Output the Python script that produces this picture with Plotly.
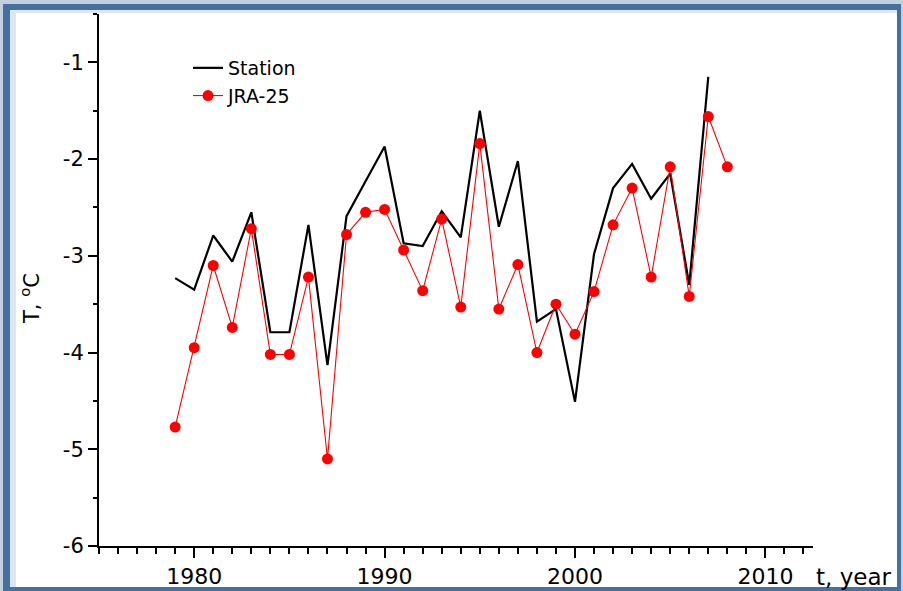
import plotly.graph_objects as go

# ---- data ----
station_years = list(range(1979, 2008))
station_temp = [-3.23, -3.35, -2.79, -3.06, -2.55, -3.79, -3.79, -2.68, -4.13, -2.59,
                -2.23, -1.87, -2.87, -2.90, -2.54, -2.81, -1.50, -2.70, -2.02, -3.68,
                -3.55, -4.51, -2.98, -2.30, -2.05, -2.41, -2.15, -3.30, -1.15]

jra_years = list(range(1979, 2009))
jra_temp = [-4.77, -3.95, -3.10, -3.74, -2.72, -4.02, -4.02, -3.22, -5.10, -2.78,
            -2.55, -2.52, -2.94, -3.36, -2.62, -3.53, -1.84, -3.55, -3.09, -4.00,
            -3.50, -3.81, -3.37, -2.68, -2.30, -3.22, -2.08, -3.42, -1.56, -2.08]

y_tickvals = [-6, -5, -4, -3, -2, -1]
y_ticktext = ["-6", "-5", "-4", "-3", "-2", "-1"]
x_tickvals = [1980, 1990, 2000, 2010]
x_ticktext = ["1980", "1990", "2000", "2010"]

# ---- layout geometry (pixels) ----
W, H = 903, 591
L, R, T, B = 99, 90, 14, 45
PW, PH = W - L - R, H - T - B


def px(x):
    return (x - L) / PW


def py(y):
    return (H - B - y) / PH


FONT = "DejaVu Sans"

fig = go.Figure()
fig.add_trace(go.Scatter(
    x=station_years, y=station_temp, mode="lines", name="Station",
    line=dict(color="black", width=2.2)))
fig.add_trace(go.Scatter(
    x=jra_years, y=jra_temp, mode="lines+markers", name="JRA-25",
    line=dict(color="#ff0000", width=1.1),
    marker=dict(color="#ff0000", size=11, line=dict(width=0))))

shapes = [
    dict(type="rect", xref="paper", yref="paper", layer="below",
         x0=px(3), x1=px(901), y0=py(4), y1=py(591),
         fillcolor="#46709f", line=dict(width=0)),
    dict(type="rect", xref="paper", yref="paper", layer="below",
         x0=px(10), x1=px(897), y0=py(10), y1=py(587),
         fillcolor="#dde7f3", line=dict(width=0)),
    dict(type="rect", xref="paper", yref="paper", layer="below",
         x0=px(16), x1=px(897), y0=py(13), y1=py(587),
         fillcolor="white", line=dict(width=0)),
]

fig.update_layout(
    template="none",
    width=W, height=H,
    autosize=False,
    margin=dict(l=L, r=R, t=T, b=B, autoexpand=False),
    paper_bgcolor="#c3cfdc",
    plot_bgcolor="white",
    showlegend=True,
    legend=dict(x=px(188), y=py(49), xanchor="left", yanchor="top",
                bgcolor="rgba(0,0,0,0)", borderwidth=0,
                font=dict(family=FONT, size=19, color="black"),
                tracegroupgap=0),
    shapes=shapes,
    annotations=[
        dict(text="T, <sup>o</sup>C", xref="paper", yref="paper",
             x=px(30), y=py(299), textangle=-90, showarrow=False,
             xanchor="center", yanchor="middle",
             font=dict(family=FONT, size=21, color="black")),
        dict(text="t, year", xref="paper", yref="paper",
             x=px(853), y=py(577), showarrow=False,
             xanchor="center", yanchor="middle",
             font=dict(family=FONT, size=23, color="black")),
    ],
)

fig.update_xaxes(
    range=[1975, 2012.5], showgrid=False, zeroline=False, automargin=False,
    showline=True, linecolor="black", linewidth=2,
    tickmode="array", tickvals=x_tickvals, ticktext=x_ticktext,
    ticks="outside", ticklen=10, tickwidth=2, tickcolor="black",
    minor=dict(dtick=1, tick0=1975, ticks="outside", ticklen=6,
               tickwidth=1.5, tickcolor="black", showgrid=False),
    tickfont=dict(family=FONT, size=22, color="black"),
)
fig.update_yaxes(
    range=[-6, -0.5], showgrid=False, zeroline=False, automargin=False,
    showline=True, linecolor="black", linewidth=2,
    tickmode="array", tickvals=y_tickvals, ticktext=y_ticktext,
    ticks="outside", ticklen=9, tickwidth=2, tickcolor="black",
    minor=dict(dtick=0.5, tick0=-6, ticks="outside", ticklen=4,
               tickwidth=1.5, tickcolor="black", showgrid=False),
    tickfont=dict(family=FONT, size=21, color="black"),
)

fig.write_html(
    "out.html",
    config={"displayModeBar": False},
    post_script="document.body.style.margin='0';document.body.style.overflow='hidden';",
)
